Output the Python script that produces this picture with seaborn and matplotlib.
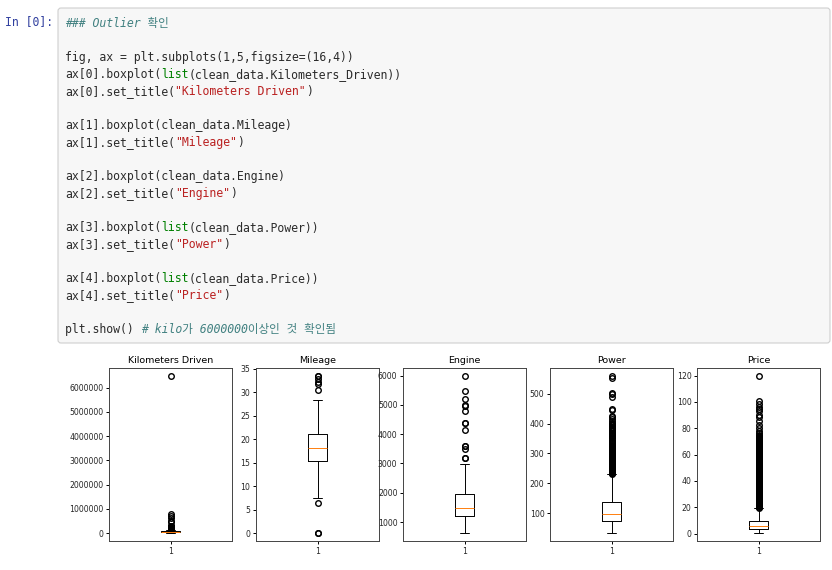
import re
import matplotlib
matplotlib.use("Agg")
import matplotlib.pyplot as plt
from matplotlib.patches import FancyBboxPatch
from matplotlib.transforms import IdentityTransform
import seaborn as sns

sns.set_theme(style="ticks")
plt.rcParams['font.family'] = ['DejaVu Sans', 'Noto Sans CJK KR']

# notebook cell
prompt = "In [0]:"
code_lines = [
    "### Outlier 확인",
    "",
    "fig, ax = plt.subplots(1,5,figsize=(16,4))",
    "ax[0].boxplot(list(clean_data.Kilometers_Driven))",
    'ax[0].set_title("Kilometers Driven")',
    "",
    "ax[1].boxplot(clean_data.Mileage)",
    'ax[1].set_title("Mileage")',
    "",
    "ax[2].boxplot(clean_data.Engine)",
    'ax[2].set_title("Engine")',
    "",
    "ax[3].boxplot(list(clean_data.Power))",
    'ax[3].set_title("Power")',
    "",
    "ax[4].boxplot(list(clean_data.Price))",
    'ax[4].set_title("Price")',
    "",
    "plt.show() # kilo가 6000000이상인 것 확인됨",
]

# box stats: whisker low, q1, median, q3, whisker high
titles = ["Kilometers Driven", "Mileage", "Engine", "Power", "Price"]
km_box = [171, 34000, 53000, 73000, 131000]
mileage_box = [7.5, 15.3, 18.15, 21.1, 28.4]
engine_box = [624, 1198, 1493, 1968, 2998]
power_box = [34.2, 75, 97.7, 138.1, 231.1]
price_box = [0.44, 3.5, 5.64, 9.95, 19.7]

km_fliers = [132000, 134000, 137000, 140000, 143000, 146000, 150000, 155000,
             160000, 165000, 170000, 175000, 180000, 186000, 192000, 200000,
             210000, 220000, 230000, 240000, 250000, 262000, 275000, 282000,
             290000, 300000, 445000, 480000, 620000, 720000, 775000, 6500000]
mileage_fliers = [0.0, 0.0, 6.4, 30.46, 31.79, 32.26, 32.9, 33.44, 33.54]
engine_fliers = [3197, 3200, 3498, 3597, 3600, 4134, 4367, 4395, 4806, 4951,
                 5000, 5204, 5461, 5998]
power_fliers = [232, 234, 235, 236, 238, 240, 241, 242, 244, 245, 246, 248,
                250, 252, 254, 255, 256, 258, 260, 261, 262, 264, 265, 266,
                268, 270, 271, 272, 275, 278, 280, 282, 285, 288, 290, 292,
                295, 298, 300, 302, 306, 308, 310, 313, 315, 318, 320, 322,
                325, 328, 330, 335, 338, 340, 345, 350, 355, 360, 362, 365,
                367, 370, 375, 380, 382, 385, 387, 390, 394, 395, 397, 400,
                402, 408, 416, 421, 425, 444, 450, 488, 500, 503, 552, 560]
price_fliers = [19.8, 20, 20.5, 21, 21.5, 22, 22.5, 23, 23.5, 24, 24.5, 25,
                25.5, 26, 26.5, 27, 27.5, 28, 28.5, 29, 29.5, 30, 30.5, 31,
                31.5, 32, 32.5, 33, 33.5, 34, 34.5, 35, 35.5, 36, 36.5, 37,
                37.5, 38, 38.5, 39, 39.5, 40, 40.5, 41, 41.5, 42, 42.5, 43,
                43.5, 44, 44.5, 45, 45.5, 46, 46.5, 47, 47.5, 48, 48.5, 49,
                49.5, 50, 50.5, 51, 51.5, 52, 52.5, 53, 53.5, 54, 54.5, 55,
                55.5, 56, 56.5, 57, 57.5, 58, 58.5, 59, 59.5, 60, 60.5, 61,
                61.5, 62, 62.5, 63, 63.5, 64, 64.5, 65, 65.5, 66, 66.5, 67,
                67.5, 68, 68.5, 69, 69.5, 70, 70.5, 71, 71.5, 72, 72.5, 73,
                73.5, 74, 74.5, 75, 76.3, 78, 80.1, 82.6, 85.7, 88.2, 90.2,
                92.8, 94.6, 96.3, 98.4, 100.4, 120]

km_ticks = [0, 1000000, 2000000, 3000000, 4000000, 5000000, 6000000]
mileage_ticks = [0, 5, 10, 15, 20, 25, 30, 35]
engine_ticks = [1000, 2000, 3000, 4000, 5000, 6000]
power_ticks = [100, 200, 300, 400, 500]
price_ticks = [0, 20, 40, 60, 80, 100, 120]
box_label = "1"

W, H = 832, 570
fig = plt.figure(figsize=(W / 100, H / 100), dpi=100)
fig.patch.set_facecolor("white")

# code cell background
cell = FancyBboxPatch((58, H - 343), 772, 335,
                      boxstyle="round,pad=0,rounding_size=3",
                      facecolor="#f7f7f7", edgecolor="#cfcfcf", linewidth=0.8,
                      transform=IdentityTransform())
fig.add_artist(cell)

mono = dict(family=["DejaVu Sans Mono", "Noto Sans CJK KR"], fontsize=8.3,
            va="center", ha="left")
fig.text(5 / W, 1 - 22 / H, prompt, color="#303F9F", **mono)

# width of one monospace column, in pixels
renderer = fig.canvas.get_renderer()
probe = fig.text(0, 0, "0" * 40, **mono)
cw = probe.get_window_extent(renderer).width / 40
probe.remove()

token_re = re.compile(r'(#.*$|"[^"]*"|\blist\b)')
for i, line in enumerate(code_lines):
    y = 1 - (23.3 + 17 * i) / H
    pos = 0
    pieces = []
    for m in token_re.finditer(line):
        if m.start() > pos:
            pieces.append((pos, line[pos:m.start()], "plain"))
        pieces.append((m.start(), m.group(0), "tok"))
        pos = m.end()
    if pos < len(line):
        pieces.append((pos, line[pos:], "plain"))
    for start, txt, kind in pieces:
        col, st = "#2b2b2b", "normal"
        if kind == "tok":
            if txt.startswith("#"):
                col, st = "#408080", "italic"
            elif txt.startswith('"'):
                col = "#BA2121"
            else:
                col = "#008000"
        fig.text((65 + start * cw) / W, y, txt, color=col, style=st, **mono)

# boxplots
orange = sns.color_palette("tab10")[1]
boxes = [km_box, mileage_box, engine_box, power_box, price_box]
fliers = [km_fliers, mileage_fliers, engine_fliers, power_fliers, price_fliers]
ticks = [km_ticks, mileage_ticks, engine_ticks, power_ticks, price_ticks]
lefts = [109, 256, 403, 550, 697]
lw = 0.7

for left, title, b, fl, tk in zip(lefts, titles, boxes, fliers, ticks):
    ax = fig.add_axes([left / W, 1 - 541 / H, 123 / W, 173.3 / H])
    stats = [dict(whislo=b[0], q1=b[1], med=b[2], q3=b[3], whishi=b[4],
                  fliers=fl, label=box_label)]
    ax.bxp(stats, widths=0.15,
           boxprops=dict(color="black", linewidth=lw),
           whiskerprops=dict(color="black", linewidth=lw),
           capprops=dict(color="black", linewidth=lw),
           medianprops=dict(color=orange, linewidth=lw),
           flierprops=dict(marker="o", markerfacecolor="none",
                           markeredgecolor="black", markersize=4.0,
                           markeredgewidth=1.0))
    ax.set_yticks(tk)
    ax.ticklabel_format(axis="y", style="plain", useOffset=False)
    ax.set_title(title, fontsize=6.8, pad=3.6, color="black")
    ax.tick_params(labelsize=5.6, length=2, width=lw, pad=2, colors="black",
                   labelcolor="#262626")
    for s in ax.spines.values():
        s.set_linewidth(lw)
        s.set_edgecolor("#444444")
    ax.grid(False)

fig.savefig("out.png", dpi=100)
